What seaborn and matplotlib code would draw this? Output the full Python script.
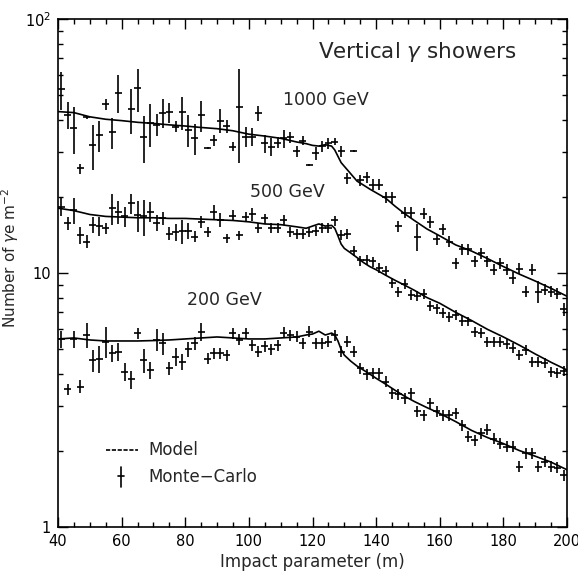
"""
Lateral density of gamma+electron component for vertical gamma showers:
model curves vs Monte-Carlo points, three primary energies.
"""

import matplotlib
matplotlib.use("Agg")
import pandas as pd
import seaborn as sns
import matplotlib.pyplot as plt
from matplotlib.ticker import MultipleLocator, LogLocator, NullFormatter

# --- model curves ---
x_model = [40, 45, 50, 55, 60, 65, 70, 75, 80, 85, 90, 95, 100, 105, 110, 115,
           118, 120, 122, 124, 126, 127, 128, 129, 130, 132, 134, 136, 138, 140,
           143, 146, 149, 152, 156, 160, 165, 170, 175, 180, 185, 190, 195, 200]
model_1000 = [43.2, 42.8, 41.2, 40.3, 39.8, 39.2, 38.8, 38.3, 37.9, 37.4, 37.0, 36.3,
              35.2, 34.6, 33.9, 32.8, 32.3, 31.8, 31.6, 32.0, 31.6, 30.5, 28.8, 27.2,
              26.3, 24.6, 23.0, 22.2, 21.4, 20.7, 19.7, 18.3, 17.1, 16.1, 14.9, 14.0,
              12.9, 12.2, 11.4, 10.6, 9.9, 9.3, 8.7, 8.1]
model_500 = [18.0, 17.6, 17.0, 16.7, 16.6, 16.5, 16.5, 16.4, 16.4, 16.3, 16.2, 16.1,
             15.9, 15.6, 15.5, 15.2, 15.0, 15.3, 15.6, 15.3, 15.4, 15.0, 14.0, 13.0,
             12.5, 12.0, 11.5, 11.0, 10.6, 10.3, 9.8, 9.35, 8.95, 8.55, 8.0, 7.6,
             7.0, 6.5, 6.0, 5.6, 5.2, 4.8, 4.45, 4.15]
model_200 = [5.5, 5.55, 5.45, 5.4, 5.4, 5.4, 5.42, 5.45, 5.5, 5.55, 5.6, 5.55,
             5.5, 5.5, 5.55, 5.6, 5.7, 5.75, 5.9, 5.7, 5.8, 5.7, 5.4, 5.0,
             4.75, 4.5, 4.3, 4.15, 4.0, 3.85, 3.65, 3.45, 3.27, 3.12, 2.95, 2.8,
             2.6, 2.4, 2.25, 2.13, 2.0, 1.9, 1.8, 1.68]

# --- Monte-Carlo points ---
x_mc_1000 = [41, 43, 45, 47, 49, 51, 53, 55, 57, 59,
             63, 65, 67, 69, 71, 73, 75, 77, 79, 81,
             83, 85, 87, 89, 91, 93, 95, 97, 99, 101,
             103, 105, 107, 109, 111, 113, 115, 117, 119, 121,
             123, 125, 127, 129, 131, 133, 135, 137, 139, 141,
             143, 145, 147, 149, 151, 153, 155, 157, 159, 161,
             163, 165, 167, 169, 171, 173, 175, 177, 179, 181,
             183, 185, 187, 189, 191, 193, 195, 197, 199]
mc_1000 = [52.8, 41.9, 37.1, 25.8, 41.0, 31.9, 34.9, 46.2, 35.8, 51.3,
           44.2, 53.3, 34.4, 38.8, 38.3, 42.8, 42.9, 37.7, 43.0, 36.6,
           33.9, 41.9, 31.0, 33.4, 39.8, 37.9, 31.4, 45.2, 34.4, 34.4,
           42.5, 32.4, 31.4, 32.6, 33.9, 34.2, 30.1, 33.2, 26.6, 29.6,
           31.6, 32.4, 32.9, 30.1, 23.6, 30.3, 23.2, 23.9, 22.3, 22.3,
           19.9, 19.9, 15.3, 17.3, 17.3, 13.9, 17.1, 15.9, 13.6, 14.9,
           13.3, 10.9, 12.4, 12.4, 11.1, 12.0, 11.1, 10.3, 10.9, 10.3,
           9.57, 10.4, 8.44, 10.3, 8.44, 8.6, 8.44, 8.3, 7.2]
err_1000 = [0.17, 0.12, 0.21, 0.045, 0.015, 0.20, 0.14, 0.05, 0.14, 0.17,
            0.20, 0.19, 0.21, 0.19, 0.10, 0.13, 0.09, 0.05, 0.15, 0.14,
            0.14, 0.14, 0.01, 0.05, 0.11, 0.06, 0.04, 0.40, 0.09, 0.08,
            0.07, 0.08, 0.08, 0.05, 0.08, 0.05, 0.05, 0.04, 0.01, 0.06,
            0.05, 0.05, 0.03, 0.05, 0.05, 0.01, 0.05, 0.05, 0.05, 0.05,
            0.05, 0.05, 0.05, 0.05, 0.05, 0.12, 0.05, 0.05, 0.05, 0.05,
            0.05, 0.05, 0.05, 0.05, 0.05, 0.05, 0.05, 0.05, 0.05, 0.05,
            0.05, 0.05, 0.05, 0.05, 0.10, 0.05, 0.05, 0.05, 0.06]

x_mc = [41, 43, 45, 47, 49, 51, 53, 55, 57, 59,
        61, 63, 65, 67, 69, 71, 73, 75, 77, 79,
        81, 83, 85, 87, 89, 91, 93, 95, 97, 99,
        101, 103, 105, 107, 109, 111, 113, 115, 117, 119,
        121, 123, 125, 127, 129, 131, 133, 135, 137, 139,
        141, 143, 145, 147, 149, 151, 153, 155, 157, 159,
        161, 163, 165, 167, 169, 171, 173, 175, 177, 179,
        181, 183, 185, 187, 189, 191, 193, 195, 197, 199]
mc_500 = [18.2, 15.7, 17.7, 14.1, 13.3, 15.5, 15.3, 15.0, 18.0, 17.4,
          16.7, 18.8, 16.9, 16.7, 17.4, 15.8, 16.4, 14.3, 14.5, 14.6,
          14.7, 13.9, 15.9, 14.5, 17.4, 16.2, 13.7, 16.8, 14.1, 16.6,
          17.0, 15.0, 16.4, 15.0, 15.0, 16.2, 14.5, 14.3, 14.3, 14.5,
          14.7, 15.0, 15.1, 16.1, 14.1, 14.2, 12.2, 11.2, 11.3, 11.1,
          10.5, 10.2, 9.11, 8.44, 9.05, 8.18, 8.1, 8.25, 7.41, 7.25,
          6.98, 6.69, 6.85, 6.49, 6.45, 5.88, 5.83, 5.37, 5.37, 5.37,
          5.27, 5.06, 4.76, 4.97, 4.48, 4.48, 4.44, 4.08, 4.05, 4.13]
err_500 = [0.08, 0.06, 0.12, 0.08, 0.06, 0.07, 0.09, 0.05, 0.14, 0.10,
           0.09, 0.09, 0.14, 0.16, 0.09, 0.07, 0.06, 0.06, 0.08, 0.11,
           0.07, 0.05, 0.05, 0.045, 0.06, 0.06, 0.04, 0.05, 0.04, 0.045,
           0.06, 0.045, 0.045, 0.045, 0.045, 0.045, 0.045, 0.045, 0.045, 0.045,
           0.045, 0.045, 0.045, 0.045, 0.045, 0.045, 0.045, 0.045, 0.045, 0.045,
           0.045, 0.045, 0.045, 0.045, 0.045, 0.045, 0.045, 0.045, 0.045, 0.045,
           0.045, 0.045, 0.045, 0.045, 0.045, 0.045, 0.045, 0.045, 0.045, 0.045,
           0.045, 0.045, 0.045, 0.045, 0.045, 0.045, 0.045, 0.045, 0.045, 0.045]
mc_200 = [5.49, 3.48, 5.49, 3.57, 5.70, 4.54, 4.6, 5.37, 4.83, 4.9,
          4.08, 3.81, 5.79, 4.54, 4.15, 5.46, 5.29, 4.21, 4.68, 4.48,
          5.0, 5.29, 5.88, 4.6, 4.83, 4.83, 4.76, 5.79, 5.46, 5.79,
          5.21, 4.9, 5.14, 5.0, 5.21, 5.83, 5.70, 5.62, 5.29, 5.88,
          5.29, 5.29, 5.37, 5.70, 4.9, 5.37, 4.9, 4.21, 4.0, 4.03,
          4.03, 3.73, 3.36, 3.33, 3.21, 3.36, 2.85, 2.76, 3.07, 2.85,
          2.76, 2.76, 2.8, 2.52, 2.27, 2.2, 2.34, 2.42, 2.23, 2.13,
          2.07, 2.07, 1.73, 1.95, 1.95, 1.73, 1.81, 1.73, 1.71, 1.60]
err_200 = [0.08, 0.05, 0.08, 0.06, 0.11, 0.10, 0.12, 0.14, 0.08, 0.08,
           0.08, 0.08, 0.05, 0.11, 0.08, 0.10, 0.10, 0.06, 0.08, 0.07,
           0.07, 0.06, 0.08, 0.05, 0.05, 0.05, 0.05, 0.05, 0.05, 0.05,
           0.05, 0.05, 0.05, 0.05, 0.05, 0.05, 0.05, 0.05, 0.05, 0.05,
           0.05, 0.05, 0.05, 0.05, 0.05, 0.05, 0.05, 0.05, 0.05, 0.05,
           0.05, 0.05, 0.05, 0.05, 0.05, 0.05, 0.05, 0.05, 0.05, 0.05,
           0.05, 0.05, 0.05, 0.05, 0.05, 0.05, 0.05, 0.05, 0.05, 0.05,
           0.05, 0.05, 0.05, 0.05, 0.05, 0.05, 0.05, 0.05, 0.05, 0.05]

energy_labels = ["1000 GeV", "500 GeV", "200 GeV"]
label_pos = [(124.3, 48.0), (112.2, 20.9), (92.2, 7.83)]

sns.set_style("ticks")
plt.rcParams["font.family"] = ["DejaVu Sans"]
plt.rcParams["mathtext.fontset"] = "dejavusans"

fig = plt.figure(figsize=(5.78, 5.74), dpi=100)
ax = fig.add_axes([58 / 578, 1 - 527 / 574, 509 / 578, 508 / 574])

# model curves
model_df = pd.concat([
    pd.DataFrame({"impact": x_model, "density": vals, "energy": lab})
    for vals, lab in zip([model_1000, model_500, model_200], energy_labels)
])
sns.lineplot(data=model_df, x="impact", y="density", units="energy",
             estimator=None, color="black", linewidth=1.2, ax=ax)

# Monte-Carlo points with error crosses
for xs, ys, es in [(x_mc_1000, mc_1000, err_1000),
                   (x_mc, mc_500, err_500),
                   (x_mc, mc_200, err_200)]:
    yerr = [[y * e for y, e in zip(ys, es)], [y * e for y, e in zip(ys, es)]]
    ax.errorbar(xs, ys, xerr=1.1, yerr=yerr, fmt="none",
                ecolor="black", elinewidth=1.2, capsize=0)

ax.set_yscale("log")
ax.set_xlim(40, 200)
ax.set_ylim(1, 100)

ax.xaxis.set_major_locator(MultipleLocator(20))
ax.xaxis.set_minor_locator(MultipleLocator(5))
ax.set_yticks([1, 10, 100])
ax.set_yticklabels(["1", "10", "10$^2$"])
ax.yaxis.set_minor_locator(LogLocator(base=10, subs=range(2, 10)))
ax.yaxis.set_minor_formatter(NullFormatter())

ax.tick_params(which="both", direction="in", top=True, right=True,
               width=1.0, labelsize=10.5, colors="black")
ax.tick_params(which="major", length=7, pad=5)
ax.tick_params(which="minor", length=3.5)
for sp in ax.spines.values():
    sp.set_linewidth(1.2)
    sp.set_color("black")

ax.set_xlabel("Impact parameter (m)", fontsize=12, labelpad=3)
ax.set_ylabel("Number of $\\gamma$e m$^{-2}$", fontsize=11)
ax.yaxis.set_label_coords(-0.072, 0.53)

ax.text(0.705, 0.935, "Vertical $\\gamma$ showers", transform=ax.transAxes,
        ha="center", va="center", fontsize=15.5)
for lab, (px, py) in zip(energy_labels, label_pos):
    ax.text(px, py, lab, ha="center", va="center", fontsize=12.5)

# legend drawn by hand
ax.plot([0.094, 0.157], [0.152, 0.152], transform=ax.transAxes,
        color="black", linewidth=1.2, linestyle=(0, (2.5, 1)))
ax.text(0.177, 0.152, "Model", transform=ax.transAxes, va="center", fontsize=12)
ax.plot([0.124, 0.124], [0.078, 0.118], transform=ax.transAxes, color="black", linewidth=1.2)
ax.plot([0.118, 0.130], [0.101, 0.101], transform=ax.transAxes, color="black", linewidth=1.2)
ax.text(0.177, 0.098, "Monte\u2212Carlo", transform=ax.transAxes, va="center", fontsize=12)

fig.savefig("out.png", dpi=100)
